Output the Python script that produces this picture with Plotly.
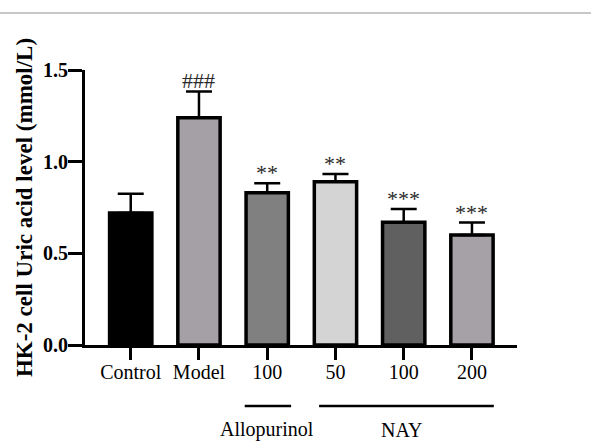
import plotly.graph_objects as go

# ---- data ----
groups = ["Control", "Model", "100", "50", "100", "200"]
means = [0.72, 1.24, 0.83, 0.89, 0.67, 0.60]
errors = [0.105, 0.143, 0.052, 0.043, 0.072, 0.068]
signif = ["", "###", "**", "**", "***", "***"]
colors = ["#000000", "#a5a0a6", "#808080", "#d4d4d4", "#606060", "#a6a1a7"]
y_ticks = [0.0, 0.5, 1.0, 1.5]
y_title = "HK-2 cell Uric acid level (mmol/L)"
unit_label = "umol/L"
group_labels = ["Allopurinol", "NAY"]

W, H = 591, 441
L, R, T, B = 85, 74, 70, 96
pw = W - L - R
ph = H - T - B

xs = list(range(len(groups)))
serif = "Liberation Serif, Times New Roman, serif"

fig = go.Figure()
fig.add_trace(go.Bar(
    x=xs, y=means, width=0.62,
    marker=dict(color=colors, line=dict(color="black", width=3.5)),
    error_y=dict(type="data", array=errors, arrayminus=[0] * len(errors),
                 symmetric=False, color="black", thickness=2.5, width=13),
    showlegend=False, hoverinfo="skip",
))

# significance marks
for x, m, e, s in zip(xs, means, errors, signif):
    if s:
        fig.add_annotation(x=x, y=m + e, text=s, showarrow=False,
                           yanchor="bottom", yshift=-4,
                           font=dict(family=serif, size=22, color="#2a2a2a"))

# group bracket lines below the axis
line_y = -0.222
fig.add_shape(type="line", xref="x", yref="paper", x0=1.67, x1=2.35,
              y0=line_y, y1=line_y, line=dict(color="black", width=2.5))
fig.add_shape(type="line", xref="x", yref="paper", x0=2.76, x1=5.32,
              y0=line_y, y1=line_y, line=dict(color="black", width=2.5))
fig.add_annotation(x=2.0, xref="x", y=-0.309, yref="paper", text=group_labels[0],
                   xanchor="center", yanchor="middle",
                   showarrow=False, font=dict(family=serif, size=20, color="black"))
fig.add_annotation(x=3.97, xref="x", y=-0.309, yref="paper", text=group_labels[1],
                   xanchor="center", yanchor="middle",
                   showarrow=False, font=dict(family=serif, size=20, color="black"))
fig.add_annotation(x=6.41, xref="x", y=-0.076, yref="paper", text=unit_label,
                   xanchor="center", yanchor="middle",
                   showarrow=False, font=dict(family=serif, size=20, color="black"))

# thin grey rule at top of the image
fig.add_shape(type="line", xref="paper", yref="paper",
              x0=-L / pw, x1=(W - L) / pw, y0=(H - B - 13) / ph, y1=(H - B - 13) / ph,
              line=dict(color="#b5b5b5", width=1.5))

fig.update_layout(
    width=W, height=H,
    margin=dict(l=L, r=R, t=T, b=B, autoexpand=False),
    paper_bgcolor="white", plot_bgcolor="white",
)
fig.update_xaxes(
    range=[-0.67, 5.66], tickvals=xs, ticktext=groups,
    showline=True, linecolor="black", linewidth=3,
    ticks="outside", ticklen=12, tickwidth=3, tickcolor="black",
    ticklabelstandoff=-5,
    tickfont=dict(family=serif, size=20, color="black"),
    showgrid=False, zeroline=False, fixedrange=True,
)
fig.update_yaxes(
    range=[0, 1.5], tickvals=y_ticks, ticktext=[f"{v:.1f}" for v in y_ticks],
    showline=True, linecolor="black", linewidth=3,
    ticks="outside", ticklen=14, tickwidth=3, tickcolor="black",
    ticklabelstandoff=-4,
    tickfont=dict(family=serif, size=20, color="black", weight="bold"),
    title=dict(text=y_title, standoff=4,
               font=dict(family=serif, size=23, color="black", weight="bold")),
    showgrid=False, zeroline=False, fixedrange=True,
)

fig.write_html("out.html", config={"displayModeBar": False})
